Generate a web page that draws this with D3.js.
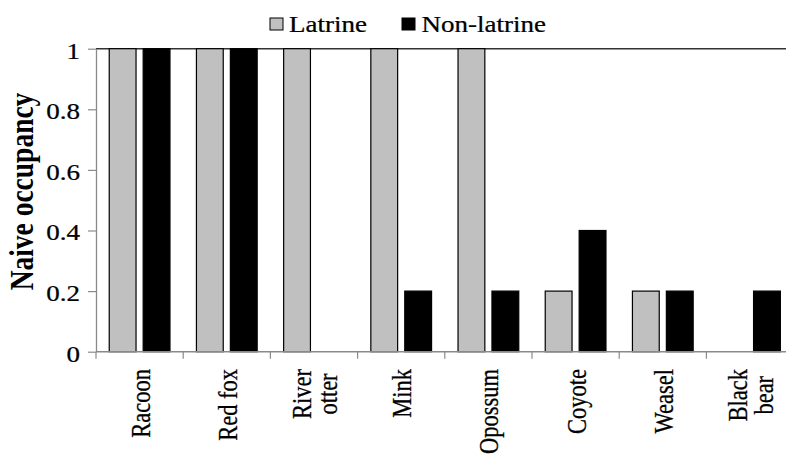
<!DOCTYPE html>
<html>
<head>
<meta charset="utf-8">
<script src="https://cdn.jsdelivr.net/npm/d3@7"></script>
<style>
  html, body { margin: 0; padding: 0; background: #fff; }
  svg { display: block; }
  svg text { font-family: "Liberation Serif", "Times New Roman", serif; }
</style>
</head>
<body>
<svg id="chart" width="786" height="454"></svg>
<script>
// ---- data ----
const categories = ["Racoon", "Red fox", "River\notter", "Mink", "Opossum", "Coyote", "Weasel", "Black\nbear"];
const seriesNames = ["Latrine", "Non-latrine"];
const latrine    = [1, 1, 1, 1, 1, 0.2, 0.2, 0];
const nonLatrine = [1, 1, 0, 0.2, 0.2, 0.4, 0.2, 0.2];
const yTicks = [0, 0.2, 0.4, 0.6, 0.8, 1];
const yTickLabels = ["0", "0.2", "0.4", "0.6", "0.8", "1"];
const yTitle = "Naive occupancy";

(function () {
// ---- layout ----
const SX = 1.2;           // horizontal stretch of the original typography
const FS = 22.5;          // font size
const FONT = '"Liberation Serif", "Times New Roman", serif';
const TSTROKE = 0.25;     // slight weight to match the reference glyphs
const pLeft = 96, pRight = 793.6, pTop = 48.7, pBottom = 351.7;
const colors = { "Latrine": "#c0c0c0", "Non-latrine": "#000000" };
const axisGrey = "#8a8a8a";

const svg = d3.select("#chart");

const x0 = d3.scaleBand().domain(categories).range([pLeft, pRight]).padding(0);
const x1 = d3.scaleBand().domain(seriesNames).range([0, x0.bandwidth()])
  .paddingInner(0.21).paddingOuter(0.39);
const y = d3.scaleLinear().domain([0, 1]).range([pBottom, pTop]);

const rows = categories.map((c, i) => ({ cat: c, vals: [
  { s: "Latrine", v: latrine[i] }, { s: "Non-latrine", v: nonLatrine[i] } ] }));

// top border line at 1
svg.append("line")
  .attr("x1", pLeft).attr("x2", pRight)
  .attr("y1", y(1)).attr("y2", y(1))
  .attr("stroke", "#333").attr("stroke-width", 1.6);

// bars
const groups = svg.append("g").selectAll("g").data(rows).join("g")
  .attr("transform", d => `translate(${x0(d.cat)},0)`);
groups.selectAll("rect").data(d => d.vals.filter(e => e.v > 0)).join("rect")
  .attr("x", d => x1(d.s))
  .attr("width", x1.bandwidth())
  .attr("y", d => y(d.v))
  .attr("height", d => y(0) - y(d.v))
  .attr("fill", d => colors[d.s])
  .attr("stroke", "#000")
  .attr("stroke-width", 1.2);

// y axis
const yAxis = d3.axisLeft(y).tickValues(yTicks)
  .tickFormat((d, i) => yTickLabels[i]).tickSize(8).tickSizeOuter(0);
const yg = svg.append("g").attr("transform", `translate(${pLeft},0)`).call(yAxis);
yg.attr("font-family", null).attr("font-size", null);
yg.select(".domain").attr("stroke", axisGrey).attr("stroke-width", 1.3);
yg.selectAll(".tick line").attr("stroke", axisGrey).attr("stroke-width", 1.2);
yg.selectAll(".tick text")
  .attr("x", -16 / SX).attr("dy", "0.42em")
  .attr("transform", `scale(${SX},1)`)
  .attr("fill", "#000")
  .attr("stroke", "#000").attr("stroke-width", TSTROKE)
  .style("font-size", FS + "px")
  .style("font-family", FONT);

// x axis line
svg.append("line")
  .attr("x1", pLeft).attr("x2", pRight)
  .attr("y1", y(0)).attr("y2", y(0))
  .attr("stroke", axisGrey).attr("stroke-width", 1.4);
// x ticks at category boundaries
svg.append("g").selectAll("line").data(categories).join("line")
  .attr("x1", d => x0(d)).attr("x2", d => x0(d))
  .attr("y1", y(0)).attr("y2", y(0) + 7)
  .attr("stroke", axisGrey).attr("stroke-width", 1.2);

// x labels (rotated, possibly multi-line)
const lineGap = 26.5;
const labTop = 369;
categories.forEach(c => {
  const lines = c.split("\n");
  const cx = x0(c) + x0.bandwidth() / 2;
  const texts = lines.map((ln, i) => {
    const bx = cx + 10 - (lines.length - 1) * lineGap / 2 + i * lineGap;
    return svg.append("text")
      .attr("text-anchor", lines.length > 1 ? "middle" : "end")
      .style("font-size", FS + "px")
      .style("font-family", FONT)
      .attr("fill", "#000")
      .attr("stroke", "#000").attr("stroke-width", TSTROKE)
      .attr("data-bx", bx)
      .text(ln);
  });
  let maxLen = 0;
  texts.forEach(t => { maxLen = Math.max(maxLen, t.node().getComputedTextLength()); });
  texts.forEach(t => {
    const bx = +t.attr("data-bx");
    const py = lines.length > 1 ? labTop + maxLen / 2 : labTop;
    t.attr("transform", `translate(${bx},${py}) scale(${SX},1) rotate(-90)`);
  });
});

// y title
svg.append("text")
  .attr("transform", `translate(33,191.5) scale(${SX},1) rotate(-90)`)
  .attr("text-anchor", "middle")
  .style("font-size", "27.5px")
  .style("font-weight", "bold")
  .style("font-family", FONT)
  .attr("fill", "#000")
  .text(yTitle);

// legend
const legendPos = [{ sx: 270, tx: 289 }, { sx: 402, tx: 421.5 }];
seriesNames.forEach((s, i) => {
  svg.append("rect")
    .attr("x", legendPos[i].sx).attr("y", 18)
    .attr("width", 13).attr("height", 12)
    .attr("fill", colors[s]).attr("stroke", "#000").attr("stroke-width", 1);
  svg.append("text")
    .attr("transform", `translate(${legendPos[i].tx},31.7) scale(${SX},1)`)
    .style("font-size", FS + "px")
    .style("font-family", FONT)
    .attr("fill", "#000")
    .attr("stroke", "#000").attr("stroke-width", TSTROKE)
    .text(s);
});
})();
</script>
</body>
</html>
